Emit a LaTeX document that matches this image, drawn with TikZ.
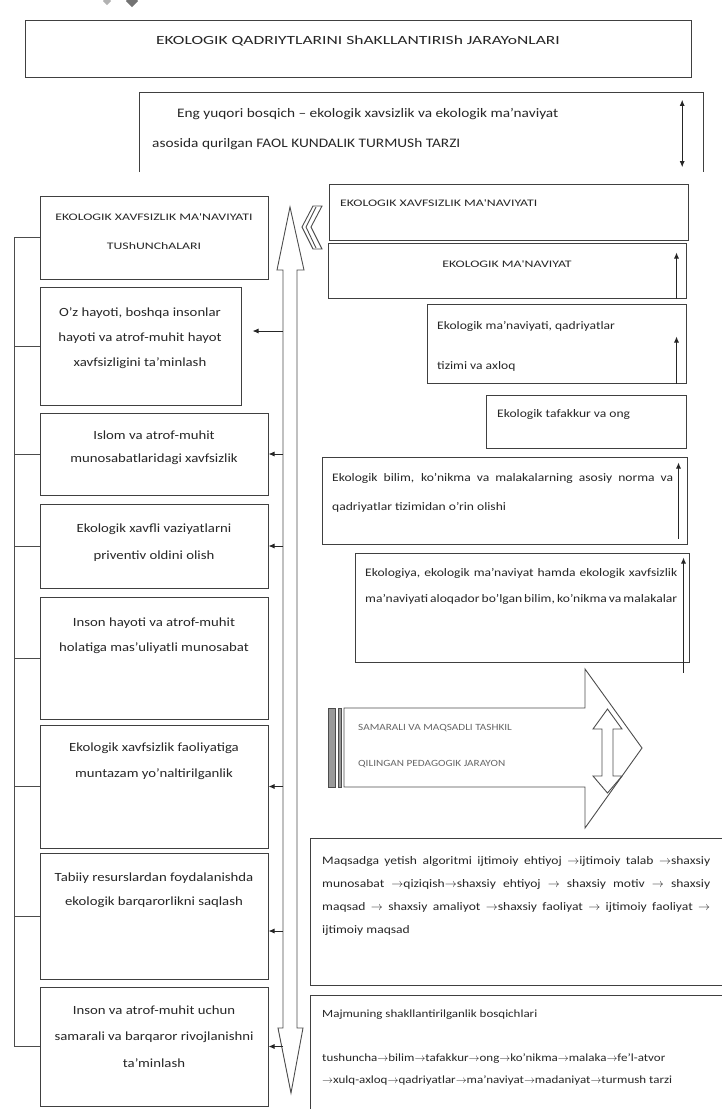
\documentclass[tikz,border=0pt]{standalone}
\usepackage{fontspec}
\setmainfont[FakeStretch=1.18]{Carlito}
\newfontfamily\capsfont[FakeStretch=1.38]{Carlito}
\newfontfamily\titlefont[FakeStretch=1.4]{Carlito}
\usepackage{tikz}
\usetikzlibrary{arrows.meta}
\usetikzlibrary{fit}
\usetikzlibrary{positioning}

\newcommand{\nxt}{$\rightarrow$}

\begin{document}
\begin{tikzpicture}[x=1pt,y=-1pt,
  box/.style={draw=black!75,line width=1pt,inner sep=0pt},
  ctxt/.style={inner sep=0pt,align=center,anchor=base,text=black!85,font=\fontsize{12.5}{25}\selectfont},
  ltxt/.style={inner sep=0pt,align=left,anchor=base west,text=black!85,font=\fontsize{11.5}{24}\selectfont},
  caps/.style={inner sep=0pt,align=center,anchor=base,text=black!85,font=\capsfont\fontsize{10}{29}\selectfont},
  tip/.style={-{Latex[length=6pt,width=5pt]},line width=0.9pt,draw=black!85},
  outl/.style={draw=black!70,line width=0.9pt},
]
\useasboundingbox (0,0) rectangle (722,1109);
\clip (0,0) rectangle (722,1109);

% bits cut off at the top
\fill[black!30] (107,-4) -- (111,1) -- (107,5) -- (103,1) -- cycle;
\fill[black!55] (132,-6) -- (138,1) -- (132,7) -- (126,1) -- cycle;

% title and top box
\node[box,fit={(25,20) (691,77)}] (T) {};
\node (tT) at (358,44) [caps,font=\titlefont\fontsize{12.5}{15}\selectfont] {EKOLOGIK QADRIYTLARINI ShAKLLANTIRISh JARAYoNLARI};

\node[fit={(140,93) (703,172)},inner sep=0pt] (top) {};
\draw[box] (top.south west) |- (top.north east) -- (top.south east);
\node (ttop) at (152,147) [ltxt,font=\fontsize{13}{30}\selectfont] {\hspace*{25pt}Eng yuqori bosqich -- ekologik xavsizlik va ekologik ma'naviyat\\asosida qurilgan FAOL KUNDALIK TURMUSh TARZI};
\coordinate (top-a) at ([xshift=-21pt,yshift=-7pt]top.north east);
\coordinate (top-b) at ([xshift=-21pt,yshift=5pt]top.south east);
\draw[tip,{Latex[length=6pt,width=5pt]}-{Latex[length=6pt,width=5pt]}] (top-b) -- (top-a);

% left column
\node[box,fit={(40,196) (268,279)}] (L1) {};
\node[box,fit={(40,287) (241,405)}] (L2) {};
\node[box,fit={(40,413) (268,495)}] (L3) {};
\node[box,fit={(40,504) (268,588)}] (L4) {};
\node[box,fit={(40,597) (268,719)}] (L5) {};
\node[box,fit={(40,725) (268,848)}] (L6) {};
\node[box,fit={(40,853) (268,979)}] (L7) {};
\node[box,fit={(40,987) (268,1106)}] (L8) {};

\node (tL1) at (154,249) [caps] {EKOLOGIK XAVFSIZLIK MA'NAVIYATI\\TUShUNChALARI};
\node (tL2) at (140,366) [ctxt] {O'z hayoti, boshqa insonlar\\hayoti va atrof-muhit hayot\\xavfsizligini ta'minlash};
\node (tL3) at (154,462) [ctxt,font=\fontsize{12.5}{23}\selectfont] {Islom va atrof-muhit\\munosabatlaridagi xavfsizlik};
\node (tL4) at (154,559) [ctxt,font=\fontsize{12.5}{27}\selectfont] {Ekologik xavfli vaziyatlarni\\priventiv oldini olish};
\node (tL5) at (154,651) [ctxt] {Inson hayoti va atrof-muhit\\holatiga mas'uliyatli munosabat};
\node (tL6) at (154,777) [ctxt,font=\fontsize{12.5}{26}\selectfont] {Ekologik xavfsizlik faoliyatiga\\muntazam yo'naltirilganlik};
\node (tL7) at (154,905) [ctxt,font=\fontsize{12.5}{24}\selectfont] {Tabiiy resurslardan foydalanishda\\ekologik barqarorlikni saqlash};
\node (tL8) at (154,1067) [ctxt,font=\fontsize{12.5}{26.5}\selectfont] {Inson va atrof-muhit uchun\\samarali va barqaror rivojlanishni\\ta'minlash};

% bracket on the left
\coordinate (brk) at (14,0);
\draw[line width=1pt,draw=black!70] (L1.west) -| (brk |- L8.west) -- (L8.west);
\foreach \b in {L2,L3,L4,L5,L6,L7}
  \draw[line width=1pt,draw=black!70] (\b.west) -- (brk |- \b.west);

% big up-down arrow
\draw[outl] (283,270) -- (277,270) -- (290,207) -- (304,270) -- (297,270)
  -- (297,1028) -- (303,1028) -- (291,1093) -- (278,1028) -- (283,1028) -- cycle;
\coordinate (shaft) at (283,0);

% chevrons
\draw[outl] (322,206) -- (313,206) -- (302,227) -- (313,249) -- (322,249) -- (311,227) -- cycle;
\draw[outl] (316,207) -- (306,227) -- (316,248);

% arrows to the left boxes
\coordinate (a2) at ([xshift=11pt,yshift=15pt]L2.east);
\coordinate (a7) at ([yshift=-15pt]L7.east);
\draw[tip] (shaft |- a2) -- (a2);
\draw[tip] (shaft |- a7) -- (a7);
\foreach \b in {L3,L4,L6,L8}
  \draw[tip] (shaft |- \b.east) -- (\b.east);

% right column
\node[box,fit={(329,184) (688,240)}] (R1) {};
\node[box,fit={(328,243) (686,298)}] (R2) {};
\node[box,fit={(427,304) (686,383)}] (R3) {};
\node[box,fit={(486,395) (686,448)}] (R4) {};
\node[box,fit={(322,457) (687,544)}] (R5) {};
\node[box,fit={(355,553) (689,662)}] (R6) {};

\node (tR1) at (340,206) [ltxt,font=\capsfont\fontsize{10}{13}\selectfont] {EKOLOGIK XAVFSIZLIK MA'NAVIYATI};
\node (tR2) at (507,267) [caps] {EKOLOGIK MA'NAVIYAT};
\node (tR3) at (437,369) [ltxt,font=\fontsize{11.5}{40}\selectfont] {Ekologik ma'naviyati, qadriyatlar\\tizimi va axloq};
\node (tR4) at (497,417) [ltxt] {Ekologik tafakkur va ong};
\node (tR5) at (332,510) [ltxt,font=\fontsize{11.5}{29}\selectfont] {\makebox[341pt][s]{Ekologik bilim, ko'nikma va malakalarning asosiy norma va}\\qadriyatlar tizimidan o'rin olishi};
\node (tR6) at (365,602) [ltxt,font=\fontsize{11.5}{26}\selectfont] {\makebox[312pt][s]{Ekologiya, ekologik ma'naviyat hamda ekologik xavfsizlik}\\\makebox[312pt][s]{ma'naviyati aloqador bo'lgan bilim, ko'nikma va malakalar}};

\coordinate (r2a) at ([xshift=-10pt,yshift=-10pt]R2.north east);
\coordinate (r3a) at ([xshift=-10pt,yshift=-33pt]R3.north east);
\coordinate (r5a) at ([xshift=-9pt,yshift=-6pt]R5.north east);
\coordinate (r5b) at ([xshift=-9pt,yshift=6pt]R5.south east);
\coordinate (r6a) at ([xshift=-6pt,yshift=-5pt]R6.north east);
\coordinate (r6b) at ([xshift=-6pt,yshift=-10pt]R6.south east);
\draw[tip] (r2a |- R2.south) -- (r2a);
\draw[tip] (r3a |- R3.south) -- (r3a);
\draw[tip] (r5b) -- (r5a);
\draw[tip] (r6b) -- (r6a);

% striped block arrow
\fill[black!40,draw=black!70] (328,708) rectangle (335,787);
\fill[black!40,draw=black!70] (338,708) rectangle (341,787);
\draw[outl] (344,708) -- (585,708) -- (585,669) -- (642,748) -- (585,828) -- (585,787) -- (344,787) -- cycle;
\draw[outl] (602,729) -- (593,729) -- (607.5,709) -- (622,729) -- (613,729)
  -- (613,776) -- (622,776) -- (607.5,793) -- (593,776) -- (602,776) -- cycle;
\node (tP) at (358,766) [ltxt,text=black!60,font=\fontsize{9.5}{36}\selectfont] {SAMARALI VA MAQSADLI TASHKIL\\QILINGAN PEDAGOGIK JARAYON};

% bottom boxes
\node[box,fit={(310,838) (730,985)}] (B1) {};
\node[box,fit={(310,995) (730,1115)}] (B2) {};

\node (tB1) at (322,933) [ltxt,font=\fontsize{11.5}{23}\selectfont] {\makebox[388pt][s]{Maqsadga yetish algoritmi ijtimoiy ehtiyoj \nxt ijtimoiy talab \nxt shaxsiy}\\
\makebox[388pt][s]{munosabat \nxt qiziqish\nxt shaxsiy ehtiyoj \nxt{} shaxsiy motiv \nxt{} shaxsiy}\\
\makebox[388pt][s]{maqsad \nxt{} shaxsiy amaliyot \nxt shaxsiy faoliyat \nxt{} ijtimoiy faoliyat \nxt}\\
ijtimoiy maqsad};
\node (tB2) at (322,1083) [ltxt,font=\fontsize{11}{22}\selectfont] {Majmuning shakllantirilganlik bosqichlari\\[22pt]
tushuncha\nxt bilim\nxt tafakkur\nxt ong\nxt ko'nikma\nxt malaka\nxt fe'l-atvor\\
\nxt xulq-axloq\nxt qadriyatlar\nxt ma'naviyat\nxt madaniyat\nxt turmush tarzi};

\end{tikzpicture}
\end{document}
